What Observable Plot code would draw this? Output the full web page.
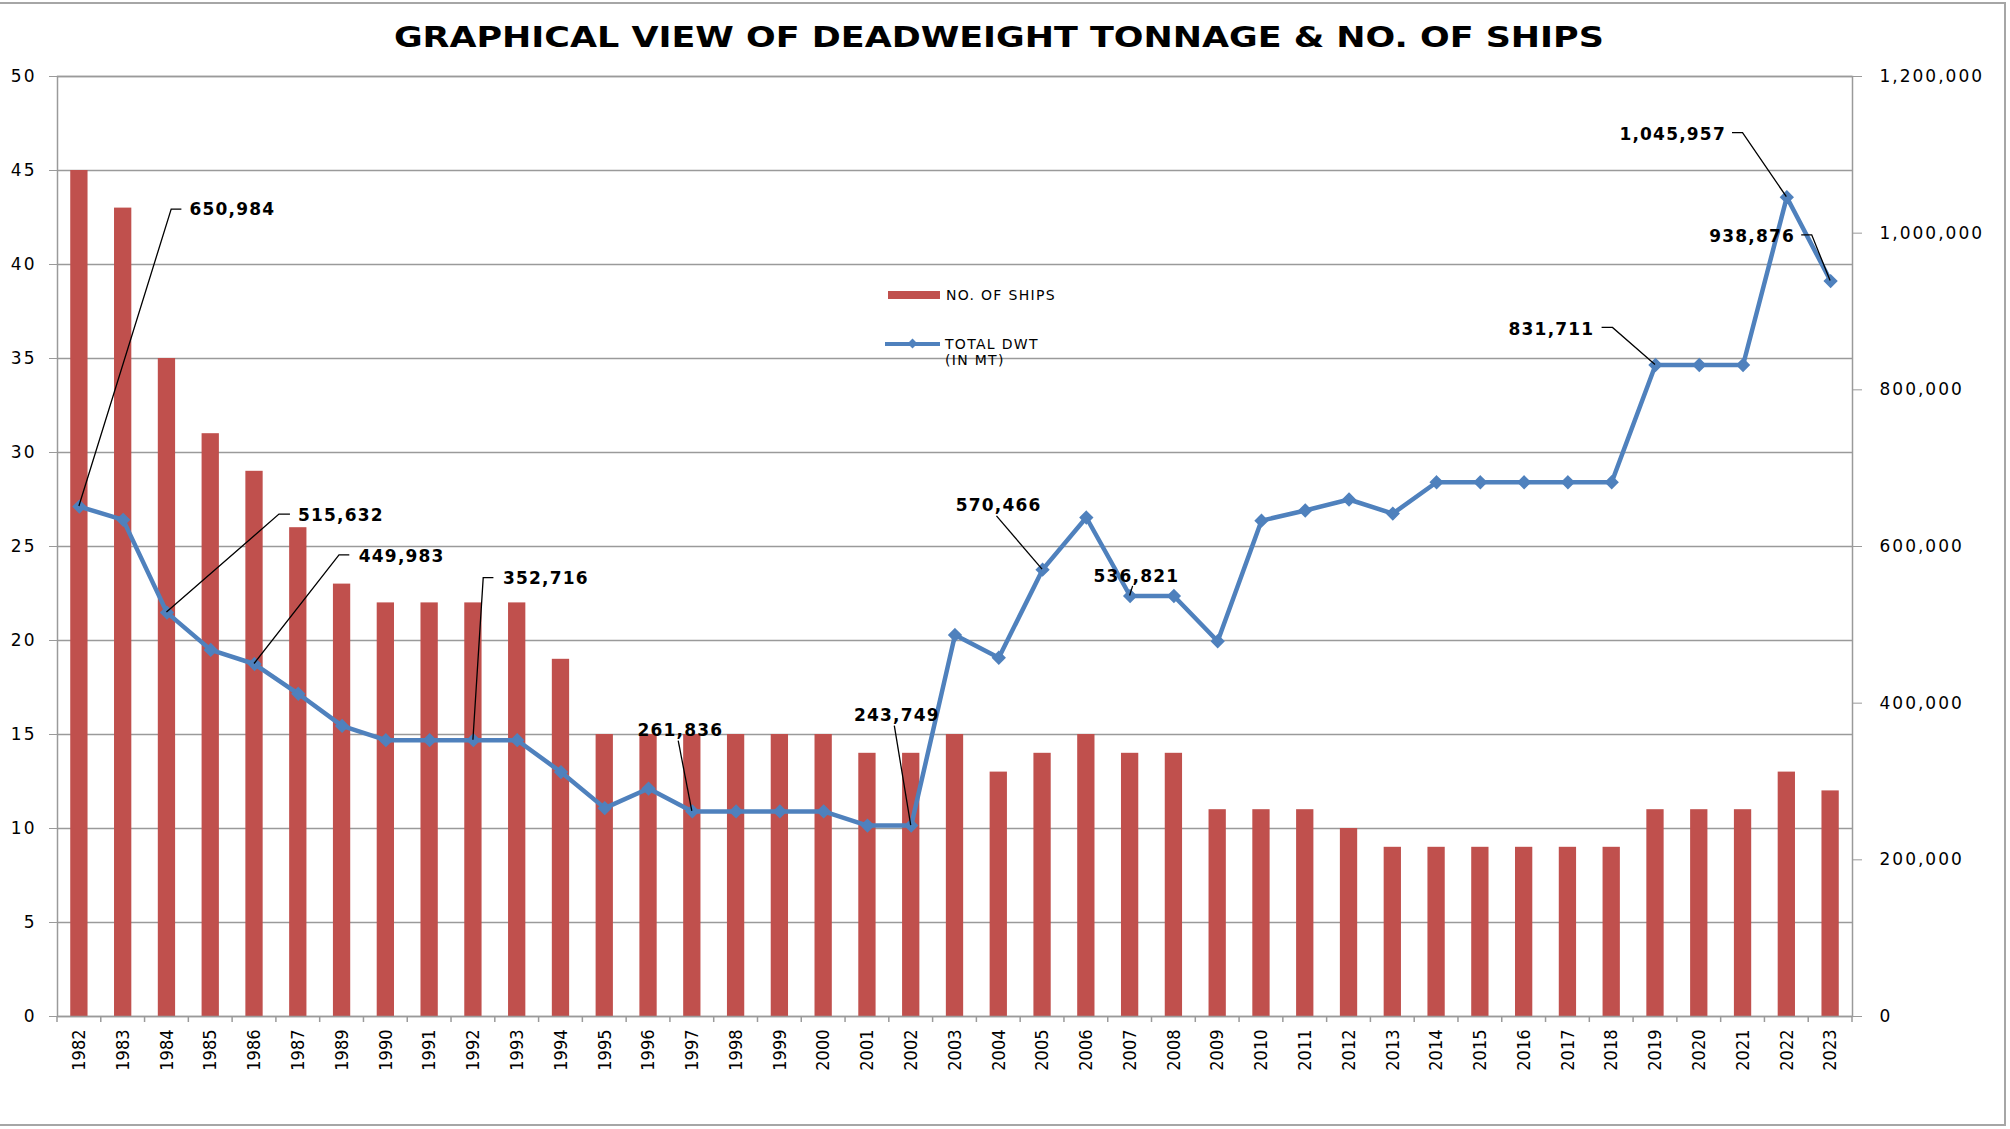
<!DOCTYPE html>
<html>
<head>
<meta charset="utf-8">
<script src="https://cdn.jsdelivr.net/npm/d3@7"></script>
<script src="https://cdn.jsdelivr.net/npm/@observablehq/plot@0.6"></script>
<style>
  body { margin: 0; background: #fff; }
  #wrap { position: relative; width: 2010px; height: 1129px; overflow: hidden; background: #fff; }
  #border { position: absolute; left: -6px; top: 2px; width: 2012px; height: 1124px; border: 2px solid #a6a6a6; box-sizing: border-box; }
  #title { position: absolute; left: 0; top: 22px; width: 1997px; text-align: center; line-height: 32px;
           font-family: "DejaVu Sans", sans-serif; font-weight: bold; font-size: 28px; color: #000; white-space: nowrap; }
  #title span { display: inline-block; transform-origin: center; }
  #chart { position: absolute; left: 0; top: 56px; }
  .lg { position: absolute; font-family: "DejaVu Sans", sans-serif; font-size: 14px; line-height: 18px; letter-spacing: 1.3px; color: #000; white-space: nowrap; }
  .sw { position: absolute; }
  #chart svg g[aria-label="y-axis tick label"] text { letter-spacing: 2px; }
  #chart svg g[aria-label="text"] text { letter-spacing: 1.2px; }
</style>
</head>
<body>
<div id="wrap">
  <div id="border"></div>
  <div id="title"><span id="titleText"></span></div>
  <div id="chart"></div>
  <div class="sw" style="left:888px;top:291px;width:52px;height:8px;background:#C0504D"></div>
  <div class="lg" id="lg1" style="left:946px;top:286px"></div>
  <div class="sw" style="left:885px;top:341.5px;width:55px;height:4.5px;background:#4F81BD"></div>
  <div class="sw" style="left:908.5px;top:340.2px;width:7px;height:7px;background:#4F81BD;transform:rotate(45deg)"></div>
  <div class="lg" id="lg2" style="left:945px;top:335px"></div>
  <div class="lg" id="lg3" style="left:945px;top:351px"></div>
</div>
<script>
// ---------- data ----------
const titleText = "GRAPHICAL VIEW OF DEADWEIGHT TONNAGE & NO. OF SHIPS";
const seriesBarName = "NO. OF SHIPS";
const seriesLineName = ["TOTAL DWT", "(IN MT)"];

const years = ["1982","1983","1984","1985","1986","1987","1989","1990","1991","1992","1993","1994","1995","1996","1997","1998","1999","2000","2001","2002","2003","2004","2005","2006","2007","2008","2009","2010","2011","2012","2013","2014","2015","2016","2017","2018","2019","2020","2021","2022","2023"];

const ships = [45,43,35,31,29,26,23,22,22,22,22,19,15,15,15,15,15,15,14,14,15,13,14,15,14,14,11,11,11,10,9,9,9,9,9,9,11,11,11,13,12];

const dwt = [650984,634000,515632,468000,449983,412000,371000,352716,352716,352716,352716,312000,266000,291000,261836,261836,261836,261836,243749,243749,487000,458000,570466,637000,536821,536821,479000,633000,646000,660000,642000,682000,682000,682000,682000,682000,831711,831711,831711,1045957,938876];

const leftTicks = [0,5,10,15,20,25,30,35,40,45,50];
const rightTicks = [0,200000,400000,600000,800000,1000000,1200000];

// years whose values carry a data label
const labelYears = ["1982","1984","1986","1992","1997","2002","2005","2007","2019","2022","2023"];

// ---------- layout of data labels (pixel offsets from the point) ----------
const labelLayout = [
  {leader: [[92.3,-297],[102.5,-297]],   text: [110,-297],   anchor: "start"},
  {leader: [[112.5,-98],[123.5,-98]],    text: [131,-97],    anchor: "start"},
  {leader: [[85,-108.7],[95.3,-108.7]],  text: [104.3,-107.7], anchor: "start"},
  {leader: [[10.3,-162],[20.5,-162]],    text: [29.5,-162],  anchor: "start"},
  {leader: [[-13.6,-70.2]],              text: [-12,-80.5], anchor: "middle"},
  {leader: [[-16.4,-99.4]],              text: [-14.4,-109.7], anchor: "middle"},
  {leader: [[-45.6,-53.2]],              text: [-43.9,-64.2], anchor: "middle"},
  {leader: [[3,-9.6]],                   text: [6.3,-19.6],  anchor: "middle"},
  {leader: [[-42.5,-37.1],[-53.4,-37.1]], text: [-61.1,-35.7], anchor: "end"},
  {leader: [[-43.8,-64.1],[-54.3,-64.1]], text: [-60.9,-62.4], anchor: "end"},
  {leader: [[-18.4,-45.7],[-28.9,-45.7]], text: [-35.5,-44.4], anchor: "end"}
];

// ---------- derived ----------
const RATIO = 1200000 / 50;   // right axis maximum over left axis maximum
const table = years.map((y, i) => ({year: y, ships: ships[i], dwt: dwt[i], dwtScaled: dwt[i] / RATIO}));
const fmt = d3.format(",");
const BAR = "#C0504D", LINE = "#4F81BD", GRID = "#9a9a9a";

document.getElementById("titleText").textContent = titleText;
document.getElementById("lg1").textContent = seriesBarName;
document.getElementById("lg2").textContent = seriesLineName[0];
document.getElementById("lg3").textContent = seriesLineName[1];

function leaders(index, scales) {
  const xs = scales.x, ys = scales.y;
  const bw = xs.bandwidth ? xs.bandwidth() : 0;
  const g = d3.create("svg:g").attr("aria-label", "leader lines")
    .attr("fill", "none").attr("stroke", "#000").attr("stroke-width", 1.3);
  labelYears.forEach((yr, k) => {
    const i = years.indexOf(yr);
    const px = xs(yr) + bw / 2, py = ys(dwt[i] / RATIO);
    const pts = [[px, py], ...labelLayout[k].leader.map(([dx, dy]) => [px + dx, py + dy])];
    g.append("path").attr("d", d3.line()(pts));
  });
  return g.node();
}

function boundaryTicks(index, scales) {
  const xs = scales.x, ys = scales.y;
  const bw = xs.bandwidth(), step = xs.step();
  const y0 = ys(0);
  const g = d3.create("svg:g").attr("aria-label", "x-axis boundary ticks")
    .attr("stroke", GRID).attr("stroke-width", 1.5);
  const bounds = years.map(yr => xs(yr) + bw / 2 - step / 2);
  bounds.push(xs(years[years.length - 1]) + bw / 2 + step / 2);
  bounds.forEach(b => g.append("line").attr("x1", b).attr("x2", b).attr("y1", y0).attr("y2", y0 + 6));
  return g.node();
}

const labelMarks = labelYears.map((yr, k) => {
  const i = years.indexOf(yr);
  const L = labelLayout[k];
  return Plot.text([table[i]], {
    x: "year", y: "dwtScaled", text: d => fmt(d.dwt),
    dx: L.text[0], dy: L.text[1], textAnchor: L.anchor,
    fontWeight: "bold", fontSize: 17, fontFamily: "DejaVu Sans", fill: "#000"
  });
});

const chart = Plot.plot({
  width: 2010, height: 1073,
  marginTop: 20, marginBottom: 113, marginLeft: 57, marginRight: 158,
  style: {fontFamily: "DejaVu Sans", fontSize: "17px", color: "#000", background: "transparent", overflow: "visible"},
  x: {type: "band", domain: years, paddingInner: 0.605, paddingOuter: 0.3025, label: null},
  y: {domain: [0, 50], label: null},
  marks: [
    Plot.gridY(leftTicks, {stroke: GRID, strokeOpacity: 1, strokeWidth: 1.5}),
    Plot.barY(table, {x: "year", y: "ships", fill: BAR}),
    Plot.frame({stroke: GRID, strokeWidth: 1.5}),
    Plot.axisY(leftTicks, {anchor: "left", tickSize: 8, tickPadding: 13, fontSize: 17, stroke: GRID, label: null}),
    Plot.axisY(rightTicks.map(v => v / RATIO), {anchor: "right", tickSize: 9, tickPadding: 18, fontSize: 17, stroke: GRID, label: null,
      tickFormat: d => fmt(Math.round(d * RATIO))}),
    Plot.axisX({anchor: "bottom", tickSize: 0, tickPadding: 13, tickRotate: -90, fontSize: 18,
      fontFamily: "Liberation Sans Narrow, DejaVu Sans Condensed, sans-serif", label: null}),
    boundaryTicks,
    Plot.lineY(table, {x: "year", y: "dwtScaled", stroke: LINE, strokeWidth: 4.5, strokeLinejoin: "round"}),
    Plot.dot(table, {x: "year", y: "dwtScaled", symbol: "diamond2", r: 5.5, fill: LINE, stroke: LINE}),
    leaders,
    ...labelMarks
  ]
});
document.getElementById("chart").appendChild(chart);

// stretch the title to the reference width
const ts = document.getElementById("titleText");
const w = ts.getBoundingClientRect().width;
ts.style.transform = `scaleX(${1210 / w})`;
</script>
</body>
</html>
